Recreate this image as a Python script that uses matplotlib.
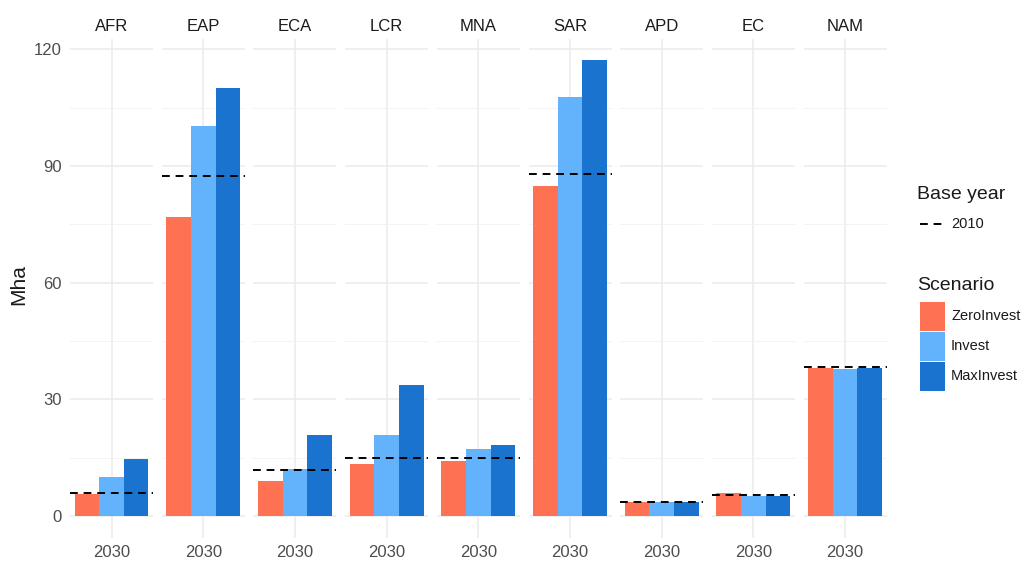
import numpy as np
import matplotlib.pyplot as plt
from matplotlib.lines import Line2D
from matplotlib.patches import Rectangle

plt.rcParams['font.family'] = ['Liberation Sans', 'DejaVu Sans']

regions = ['AFR', 'EAP', 'ECA', 'LCR', 'MNA', 'SAR', 'APD', 'EC', 'NAM']
zero_invest = [5.7, 77.0, 9.0, 13.4, 14.1, 84.8, 3.5, 5.9, 38.0]
invest = [10.0, 100.2, 12.0, 20.8, 17.2, 107.7, 3.5, 5.2, 37.8]
max_invest = [14.6, 110.2, 20.8, 33.7, 18.3, 117.2, 3.5, 5.2, 38.0]
base_2010 = [6.0, 87.4, 11.8, 14.9, 14.9, 87.9, 3.6, 5.3, 38.2]
year_label = '2030'

scenarios = ['ZeroInvest', 'Invest', 'MaxInvest']
colors = ['#FF7153', '#62B3FB', '#1A73CF']

W, H = 1023, 562
fig = plt.figure(figsize=(W / 100, H / 100), dpi=100)

panel_left = 70
panel_w = 83
step = 91.7
panel_top = 39
panel_bottom = 538
ymin, ymax = -5.66, 122.7

series = [zero_invest, invest, max_invest]
bw = 0.3
for i, reg in enumerate(regions):
    x0 = panel_left + i * step
    ax = fig.add_axes([x0 / W, 1 - panel_bottom / H, panel_w / W, (panel_bottom - panel_top) / H])
    for j, vals in enumerate(series):
        ax.bar(1 + (j - 1) * bw, vals[i], width=bw, color=colors[j], zorder=2)
    ax.axhline(base_2010[i], color='black', lw=1.4, ls=(0, (4, 3)), zorder=3)
    ax.set_xlim(1 - 0.505, 1 + 0.505)
    ax.set_ylim(ymin, ymax)
    ax.set_yticks([0, 30, 60, 90, 120])
    ax.set_yticks([15, 45, 75, 105], minor=True)
    ax.set_xticks([1])
    ax.set_xticklabels([year_label])
    ax.grid(True, which='major', color='#EBEBEB', lw=1.1, zorder=0)
    ax.grid(True, which='minor', axis='y', color='#F3F3F3', lw=0.7, zorder=0)
    ax.set_axisbelow(True)
    for s in ax.spines.values():
        s.set_visible(False)
    ax.tick_params(axis='x', which='both', length=0, labelsize=12, colors='#4D4D4D', pad=5)
    ax.tick_params(axis='y', which='both', length=0, labelsize=12, colors='#4D4D4D', pad=6)
    if i > 0:
        ax.tick_params(axis='y', labelleft=False)
    ax.set_title(reg, fontsize=12, color='#1A1A1A', pad=6)

fig.text(19 / W, 1 - 285 / H, 'Mha', fontsize=15, color='#1A1A1A', rotation=90, ha='center', va='center')

# legends
fig.text(917 / W, 1 - 195 / H, 'Base year', fontsize=14, color='#1A1A1A', va='center')
fig.add_artist(Line2D([920 / W, 945 / W], [1 - 224 / H, 1 - 224 / H], color='black', lw=1.4, ls=(0, (4, 3))))
fig.text(951 / W, 1 - 224 / H, '2010', fontsize=10.5, color='#1A1A1A', va='center')

fig.text(917 / W, 1 - 286 / H, 'Scenario', fontsize=14, color='#1A1A1A', va='center')
for j, name in enumerate(scenarios):
    ytop = 302 + j * 30
    fig.add_artist(Rectangle((920 / W, 1 - (ytop + 29) / H), 25 / W, 29 / H, color=colors[j], lw=0))
    fig.text(951 / W, 1 - (ytop + 14) / H, name, fontsize=10.5, color='#1A1A1A', va='center')

fig.savefig('out.png', dpi=100)
